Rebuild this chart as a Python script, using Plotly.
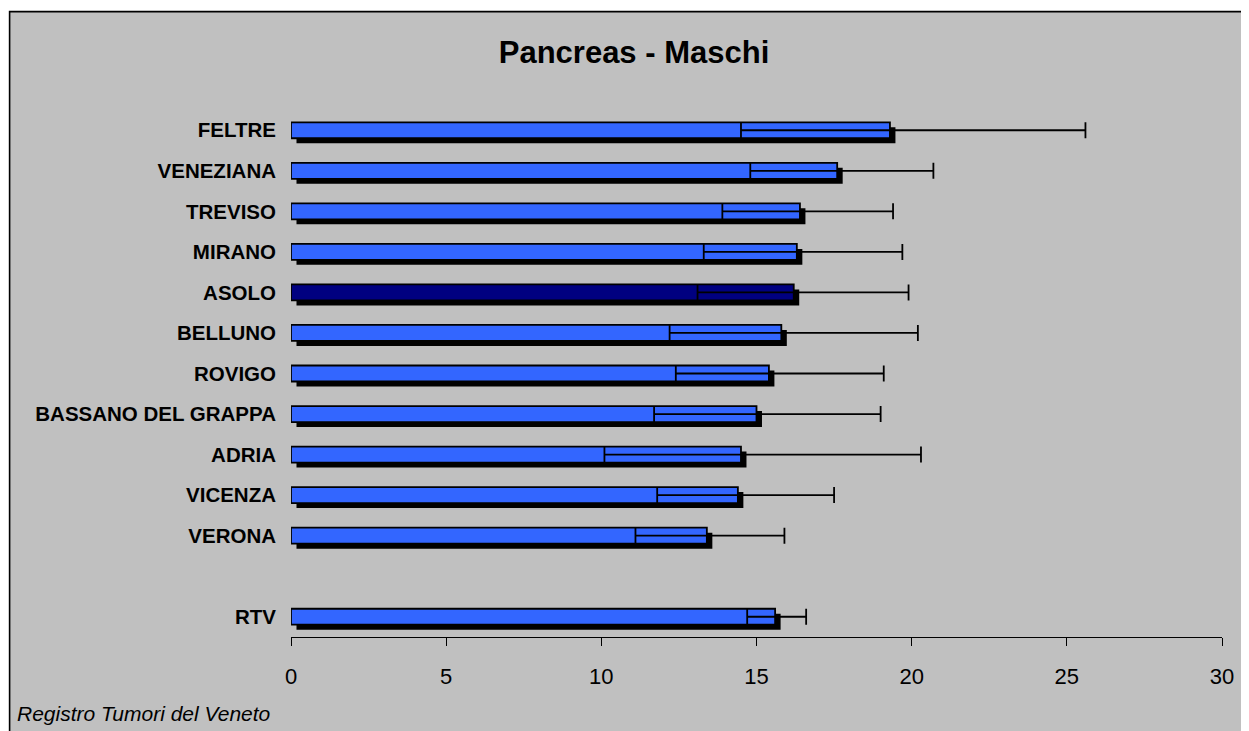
import plotly.graph_objects as go

categories = ["FELTRE", "VENEZIANA", "TREVISO", "MIRANO", "ASOLO", "BELLUNO",
              "ROVIGO", "BASSANO DEL GRAPPA", "ADRIA", "VICENZA", "VERONA", "", "RTV"]
rates = [19.3, 17.6, 16.4, 16.3, 16.2, 15.8, 15.4, 15.0, 14.5, 14.4, 13.4, None, 15.6]
ci_low = [14.5, 14.8, 13.9, 13.3, 13.1, 12.2, 12.4, 11.7, 10.1, 11.8, 11.1, None, 14.7]
ci_high = [25.6, 20.7, 19.4, 19.7, 19.9, 20.2, 19.1, 19.0, 20.3, 17.5, 15.9, None, 16.6]
highlight = "ASOLO"
x_ticks = [0, 5, 10, 15, 20, 25, 30]

# page body has an 8px margin; figure drawn 8px smaller so it fits the window
W, H = 1241, 723
L, R, T, B = 282.5, 26.5, 101.5, 94
pw = W - L - R
ph = H - T - B

n = len(categories)
ypos = [n - 1 - i for i in range(n)]
idx = [i for i in range(n) if rates[i] is not None]

xs = [rates[i] for i in idx]
ys = [ypos[i] for i in idx]
colors = ["#000080" if categories[i] == highlight else "#3366FF" for i in idx]
err_plus = [ci_high[i] - rates[i] for i in idx]
err_minus = [rates[i] - ci_low[i] for i in idx]

unit_x = pw / 30.0
unit_y = ph / n
dx = 5.5 / unit_x
dy = 5.0 / unit_y
bar_w = 16.0 / unit_y

fig = go.Figure()
# shadow
fig.add_trace(go.Bar(
    x=xs, y=[y - dy for y in ys], base=dx, orientation="h", width=bar_w,
    marker=dict(color="black", line=dict(width=0)), hoverinfo="skip", showlegend=False))
# main bars
fig.add_trace(go.Bar(
    x=xs, y=ys, orientation="h", width=bar_w,
    marker=dict(color=colors, line=dict(color="black", width=1.8)),
    error_x=dict(type="data", symmetric=False, array=err_plus, arrayminus=err_minus,
                 color="black", thickness=1.8, width=8),
    showlegend=False))

fig.update_layout(
    width=W, height=H, barmode="overlay",
    margin=dict(l=L, r=R, t=T, b=B, pad=0),
    paper_bgcolor="white", plot_bgcolor="#C0C0C0",
    font=dict(family="Liberation Sans, Arial, sans-serif", color="black"),
    title=dict(text="Pancreas - Maschi", x=626 / W, xanchor="center",
               y=1 - 44 / H, yanchor="middle",
               font=dict(size=31, weight="bold", color="black")),
    xaxis=dict(range=[0, 30], tickvals=x_ticks, ticks="outside", ticklen=8,
               tickcolor="black", tickwidth=1, showline=True, linecolor="black",
               linewidth=1, showgrid=False, zeroline=False,
               tickfont=dict(size=22, color="black"), ticklabelstandoff=12),
    yaxis=dict(range=[-0.5, n - 0.5], tickvals=ypos, ticktext=categories,
               ticks="", showline=False, showgrid=False, zeroline=False,
               tickfont=dict(size=20.5, weight="bold", color="black"),
               ticklabelstandoff=14),
    shapes=[dict(type="rect", xref="paper", yref="paper", layer="below",
                 x0=(0.8 - L) / pw, x1=(W + 20 - L) / pw,
                 y0=-(B + 20) / ph, y1=(H - B - 3) / ph,
                 fillcolor="#C0C0C0", line=dict(color="black", width=1.6))],
    annotations=[dict(text="Registro Tumori del Veneto", xref="paper", yref="paper",
                      x=(6 - L) / pw, y=-(706 - (H - B)) / ph, xanchor="left",
                      yanchor="middle", showarrow=False,
                      font=dict(size=21, style="italic", color="black"))],
)

fig.write_html("out.html")
